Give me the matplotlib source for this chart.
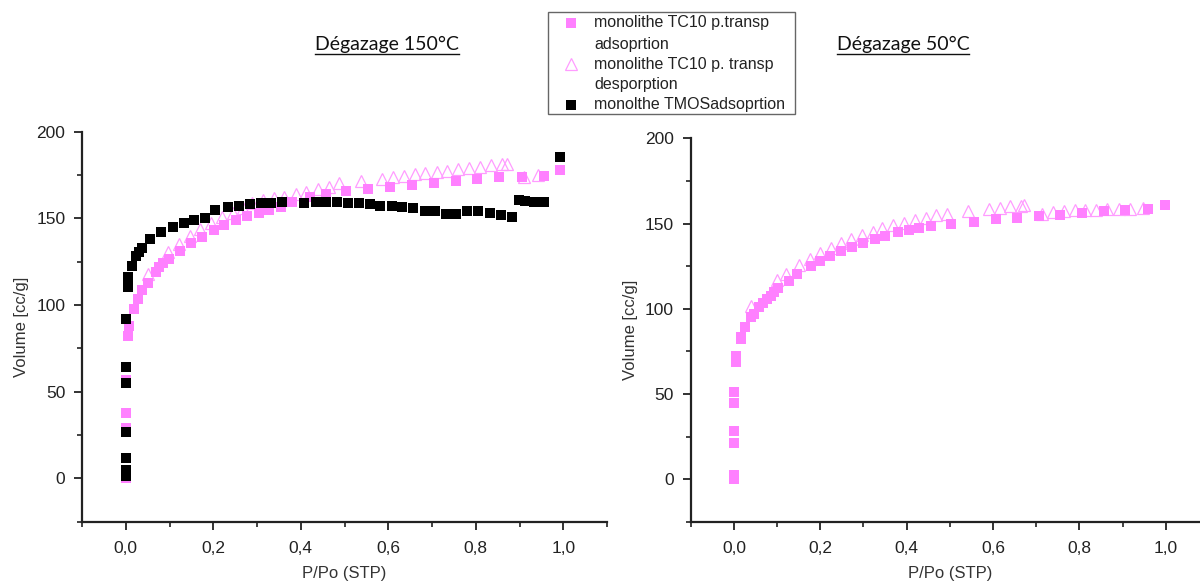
import matplotlib
matplotlib.use('Agg')
import matplotlib.pyplot as plt
from matplotlib.ticker import MultipleLocator, FuncFormatter
from matplotlib.lines import Line2D
from matplotlib.patches import Rectangle

plt.rcParams['font.family'] = ['Liberation Sans', 'DejaVu Sans']

# --- Dégazage 150°C ---
tc10_ads_150_x = [0.0, 0.0, 0.0, 0.0, 0.004, 0.008, 0.018, 0.027, 0.037, 0.05, 0.069, 0.077,
                  0.086, 0.098, 0.125, 0.15, 0.174, 0.201, 0.225, 0.252, 0.277, 0.304, 0.328,
                  0.354, 0.379, 0.42, 0.458, 0.504, 0.554, 0.604, 0.654, 0.704, 0.754, 0.803,
                  0.853, 0.905, 0.956, 0.993]
tc10_ads_150_y = [0.5, 29, 38, 57, 82, 88, 98, 103.5, 108.7, 113, 119.3, 121.8,
                  124.1, 126.4, 131.2, 135.6, 139.5, 143.3, 146.2, 149.1, 151.4, 153.3, 154.9,
                  156.8, 159.5, 162.5, 164.1, 165.8, 167, 168.3, 169.5, 170.6, 171.6, 172.8,
                  173.7, 174.1, 174.5, 178]

tc10_des_150_x = [0.051, 0.096, 0.121, 0.146, 0.17, 0.195, 0.22, 0.244, 0.267, 0.289, 0.313,
                  0.338, 0.361, 0.388, 0.413, 0.44, 0.464, 0.487, 0.537, 0.586, 0.611, 0.636,
                  0.661, 0.685, 0.711, 0.735, 0.76, 0.785, 0.81, 0.835, 0.859, 0.871, 0.91, 0.942]
tc10_des_150_y = [117.9, 130.5, 135.3, 139.9, 143.7, 147.5, 151, 153.3, 156, 159, 160.5,
                  161.6, 162.6, 164, 165.4, 166.8, 168.3, 170.3, 171.6, 172.8, 173.7, 174.5,
                  175.5, 176.4, 177, 177.6, 178.4, 178.9, 179.9, 180.7, 181.2, 181.2, 174.1, 175.1]

tmos_ads_150_x = [0.0, 0.0, 0.0, 0.0, 0.0, 0.0, 0.0, 0.004, 0.005, 0.006, 0.014, 0.023, 0.03,
                  0.037, 0.056, 0.08, 0.107, 0.132, 0.157, 0.182, 0.205, 0.233, 0.258, 0.283,
                  0.308, 0.333, 0.357, 0.408, 0.434, 0.458, 0.483, 0.508, 0.533, 0.558, 0.582,
                  0.608, 0.632, 0.657, 0.683, 0.708, 0.732, 0.756, 0.781, 0.806, 0.832, 0.857,
                  0.882, 0.899, 0.912, 0.933, 0.956, 0.993]
tmos_ads_150_y = [1.5, 5, 12, 27, 55, 64.5, 92, 110.6, 113.5, 116.4, 122.7, 128.3, 130.5,
                  133.1, 138.1, 142, 145.2, 147.2, 149.1, 150.1, 154.9, 156.4, 157.2, 158.2,
                  158.7, 159.1, 159.5, 159.1, 159.5, 159.3, 159.3, 159.1, 159.1, 158.2, 157.4,
                  157.2, 156.4, 155.8, 154.5, 154.5, 152.6, 152.4, 154.3, 154.3, 153, 152,
                  151, 160.6, 160.2, 159.5, 159.5, 185.3]

# --- Dégazage 50°C ---
tc10_ads_50_x = [0.0, 0.0, 0.0, 0.0, 0.0, 0.0, 0.004, 0.006, 0.016, 0.016, 0.026, 0.039,
                 0.046, 0.058, 0.067, 0.076, 0.085, 0.093, 0.102, 0.127, 0.146, 0.178, 0.199,
                 0.223, 0.248, 0.273, 0.3, 0.326, 0.349, 0.38, 0.406, 0.429, 0.456, 0.503,
                 0.557, 0.606, 0.655, 0.706, 0.754, 0.806, 0.856, 0.906, 0.959, 0.999]
tc10_ads_50_y = [0, 2.5, 21.5, 28.4, 44.5, 51.4, 68.6, 72.5, 82.3, 83.3, 89.2, 95,
                 97, 101, 103.7, 105.9, 107.8, 109.8, 112.3, 116.6, 120.2, 124.9, 128,
                 130.8, 133.9, 136.2, 138.6, 140.8, 143, 145, 146, 147.6, 148.4, 150,
                 151, 152.4, 153.3, 154.3, 155.3, 156.2, 157.2, 158.2, 158.8, 160.8]

tc10_des_50_x = [0.04, 0.1, 0.121, 0.151, 0.176, 0.2, 0.224, 0.248, 0.272, 0.296, 0.321,
                 0.344, 0.369, 0.394, 0.419, 0.445, 0.469, 0.494, 0.541, 0.59, 0.615, 0.64,
                 0.665, 0.671, 0.714, 0.738, 0.764, 0.789, 0.814, 0.839, 0.865, 0.892, 0.916, 0.947]
tc10_des_50_y = [101.4, 117, 120.6, 125.5, 129.4, 132.7, 135.9, 138.6, 141.2, 143.1, 145.1,
                 147.4, 149, 150.4, 151.9, 153.3, 154.9, 155.9, 157.4, 158.8, 159.4, 160.2,
                 160.4, 160.8, 155.5, 156.6, 157.4, 157.8, 158.2, 158.2, 158.4, 158.8, 158.8, 159.2]

pink = '#ff80ff'
tri_edge = '#ff9cff'

W, H = 1200, 581
fig = plt.figure(figsize=(12, 5.81), dpi=100)

ax1 = fig.add_axes([82 / W, 1 - 521.7 / H, (607 - 82) / W, (521.7 - 131.7) / H])
ax2 = fig.add_axes([690.7 / W, 1 - 522 / H, (1209 - 690.7) / W, (522 - 138.3) / H])


def comma(v, pos):
    return ('%.1f' % v).replace('.', ',')


def style(ax):
    ax.set_xlim(-0.1, 1.1)
    ax.set_ylim(-25, 200)
    for s in ['top', 'right']:
        ax.spines[s].set_visible(False)
    for s in ['left', 'bottom']:
        ax.spines[s].set_linewidth(1.6)
        ax.spines[s].set_color('#222222')
    ax.xaxis.set_major_locator(MultipleLocator(0.2))
    ax.xaxis.set_minor_locator(MultipleLocator(0.1))
    ax.yaxis.set_major_locator(MultipleLocator(50))
    ax.yaxis.set_minor_locator(MultipleLocator(25))
    ax.xaxis.set_major_formatter(FuncFormatter(comma))
    ax.tick_params(which='major', direction='out', length=6, width=1.3, labelsize=12.5,
                   colors='#222222', pad=8)
    ax.tick_params(axis='y', which='major', pad=6)
    ax.tick_params(which='minor', direction='out', length=3.5, width=1.2, colors='#222222')
    ax.set_xlabel('P/Po (STP)', fontsize=12, color='#333333', labelpad=7)
    ax.set_ylabel('Volume [cc/g]', fontsize=12, color='#333333', labelpad=5)


style(ax1)
style(ax2)

sq = dict(marker='s', linestyle='none', markersize=6.8, markeredgewidth=0)
tri = dict(marker='^', linestyle='none', markersize=8.5, markerfacecolor='none',
           markeredgecolor=tri_edge, markeredgewidth=0.9)

ax1.plot(tc10_des_150_x, tc10_des_150_y, **tri, clip_on=False)
ax1.plot(tc10_ads_150_x, tc10_ads_150_y, color=pink, **sq, clip_on=False)
ax1.plot(tmos_ads_150_x, tmos_ads_150_y, color='black', **sq, clip_on=False)

ax2.plot(tc10_des_50_x, tc10_des_50_y, **tri, clip_on=False)
ax2.plot(tc10_ads_50_x, tc10_ads_50_y, color=pink, **sq, clip_on=False)

# titres soulignés
fig.canvas.draw()
renderer = fig.canvas.get_renderer()
for txt, cx in [('Dégazage 150°C', 387), ('Dégazage 50°C', 903)]:
    t = fig.text(cx / W, 1 - 44 / H, txt, ha='center', va='center', fontsize=14,
                 family=['Lato', 'DejaVu Sans'], color='#111111')
    bb = t.get_window_extent(renderer)
    yl = bb.y0 - 1
    fig.add_artist(Line2D([bb.x0 / W, bb.x1 / W], [yl / H, yl / H], color='#111111',
                          linewidth=1.0, transform=fig.transFigure))

# légende
fig.add_artist(Rectangle((548 / W, 1 - 114 / H), (795 - 548) / W, (114 - 12) / H,
                         transform=fig.transFigure, facecolor='white', edgecolor='#666666',
                         linewidth=1.0))
legend_rows = [
    (23, 'monolithe TC10 p.transp', 'ads'),
    (44, 'adsoprtion', None),
    (64, 'monolithe TC10 p. transp', 'des'),
    (84, 'desporption', None),
    (105, 'monolthe TMOSadsoprtion', 'tmos'),
]
for ypx, label, kind in legend_rows:
    fy = 1 - ypx / H
    fig.text(594 / W, fy, label, ha='left', va='center', fontsize=11.5, color='#222222')
    if kind == 'ads':
        fig.add_artist(Line2D([571 / W], [fy], color=pink, transform=fig.transFigure, **sq))
    elif kind == 'des':
        fig.add_artist(Line2D([571 / W], [fy], transform=fig.transFigure, **tri))
    elif kind == 'tmos':
        fig.add_artist(Line2D([571 / W], [fy], color='black', transform=fig.transFigure, **sq))

plt.savefig('out.png', dpi=100)
